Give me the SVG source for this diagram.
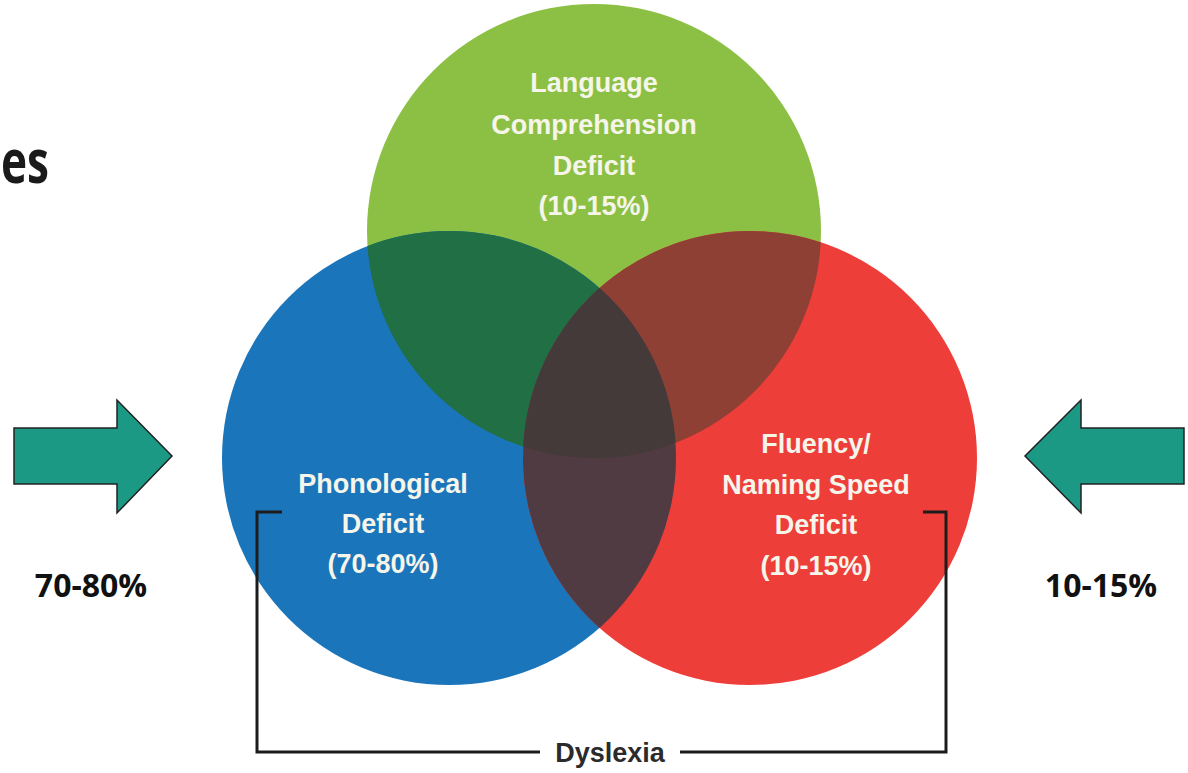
<svg xmlns="http://www.w3.org/2000/svg" width="1188" height="773" viewBox="0 0 1188 773">
<style>
.lbl{font-family:"Liberation Sans",Arial,sans-serif;font-weight:bold;font-size:27px;fill:#f6f5ea;text-anchor:middle}
.pct{font-family:"Open Sans","Liberation Sans",sans-serif;font-weight:bold;font-size:32px;fill:#111;text-anchor:middle}
.arrow{fill:#1b9985;stroke:#222;stroke-width:1.5;stroke-linejoin:miter}
.br{fill:none;stroke:#1c1c1c;stroke-width:3}
</style>
<defs>
<clipPath id="cG"><circle cx="594" cy="231" r="227"/></clipPath>
<clipPath id="cB"><circle cx="449" cy="458" r="227"/></clipPath>
</defs>
<rect width="1188" height="773" fill="#fff"/>
<g id="title"><text x="1" y="183" font-family="'Open Sans','Liberation Sans',sans-serif" font-weight="bold" font-size="60" fill="#1a1a1a" textLength="48" lengthAdjust="spacingAndGlyphs">es</text></g>
<g id="venn">
<circle id="c-green" cx="594" cy="231" r="227" fill="#8cc044"/>
<circle id="c-blue" cx="449" cy="458" r="227" fill="#1b75bb"/>
<circle id="c-red" cx="750" cy="458" r="227" fill="#ee3e3a"/>
<circle cx="449" cy="458" r="227" fill="#216f45" clip-path="url(#cG)"/>
<circle cx="750" cy="458" r="227" fill="#8e4035" clip-path="url(#cG)"/>
<circle cx="750" cy="458" r="227" fill="#513b43" clip-path="url(#cB)"/>
<g clip-path="url(#cG)"><circle cx="750" cy="458" r="227" fill="#443a3a" clip-path="url(#cB)"/></g>
</g>
<g id="node-language">
<text class="lbl" x="594" y="92">Language</text>
<text class="lbl" x="594" y="134">Comprehension</text>
<text class="lbl" x="594" y="175">Deficit</text>
<text class="lbl" x="594" y="215" font-weight="normal">(10-15%)</text>
</g>
<g id="node-phonological">
<text class="lbl" x="383" y="493">Phonological</text>
<text class="lbl" x="383" y="533">Deficit</text>
<text class="lbl" x="383" y="573" font-weight="normal">(70-80%)</text>
</g>
<g id="node-fluency">
<text class="lbl" x="816" y="453">Fluency/</text>
<text class="lbl" x="816" y="494">Naming Speed</text>
<text class="lbl" x="816" y="534">Deficit</text>
<text class="lbl" x="816" y="575" font-weight="normal">(10-15%)</text>
</g>
<g id="connectors">
<polyline class="br" points="282,512 257,512 257,752 540,752"/>
<polyline class="br" points="923,512 946,512 946,752 680,752"/>
</g>
<g id="node-dyslexia">
<text x="610" y="762" font-family="'Liberation Sans',Arial,sans-serif" font-weight="bold" font-size="27" fill="#2b2b2b" text-anchor="middle">Dyslexia</text>
</g>
<g id="arrow-left">
<polygon class="arrow" points="14,428 117,428 117,400 172,456 117,513 117,484 14,484"/>
<text class="pct" x="91" y="597">70-80%</text>
</g>
<g id="arrow-right">
<polygon class="arrow" points="1184,428 1081,428 1081,400 1025,456 1081,513 1081,484 1184,484"/>
<text class="pct" x="1101" y="597">10-15%</text>
</g>
</svg>
